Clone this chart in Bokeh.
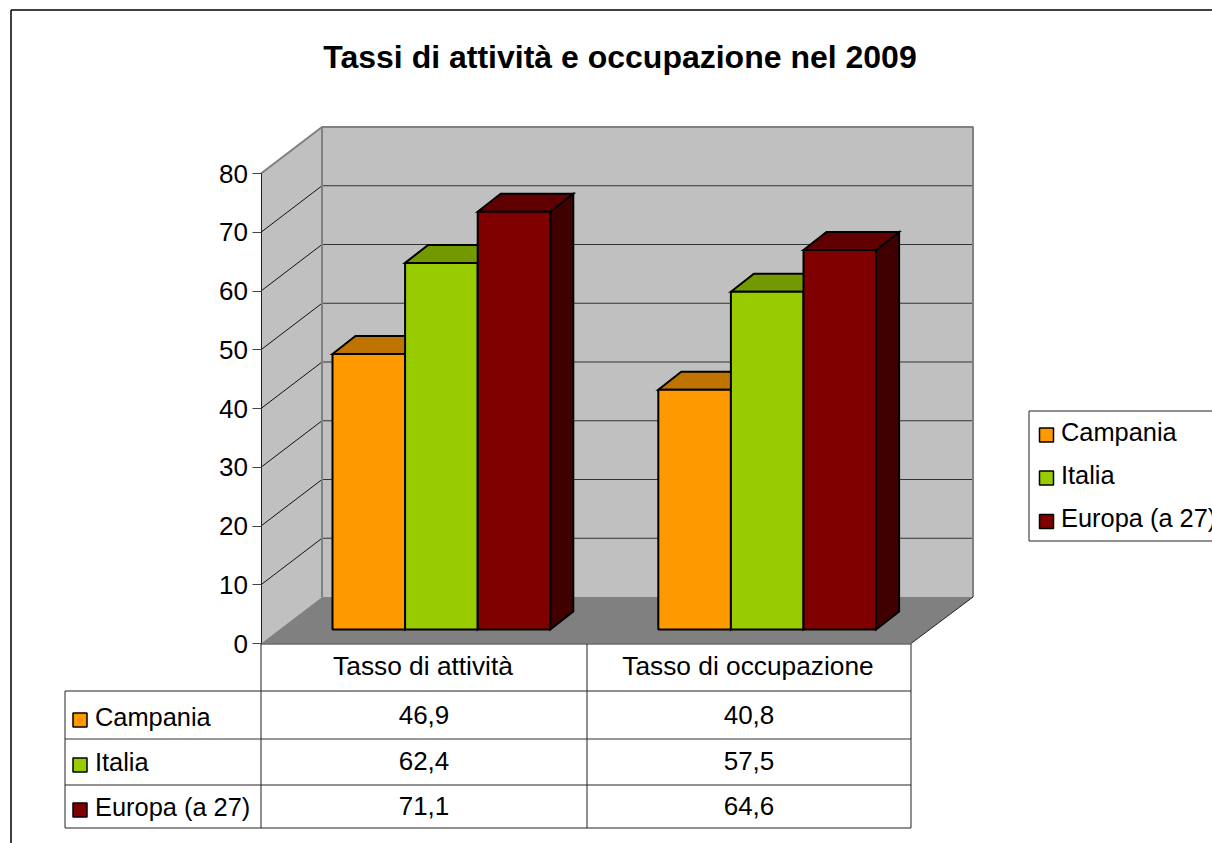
from bokeh.plotting import figure
from bokeh.models import LinearAxis, FixedTicker, Range1d
from bokeh.core.properties import value
from bokeh.embed import file_html
from bokeh.resources import INLINE

title_text = "Tassi di attività e occupazione nel 2009"
categories = ["Tasso di attività", "Tasso di occupazione"]
series_names = ["Campania", "Italia", "Europa (a 27)"]
campania = [46.9, 40.8]
italia = [62.4, 57.5]
europa = [71.1, 64.6]
y_ticks = [0, 10, 20, 30, 40, 50, 60, 70, 80]

front_colors = ["#ff9900", "#99cc00", "#800000"]
top_colors = ["#bf7300", "#739900", "#600000"]
side_colors = ["#804d00", "#4d6600", "#400000"]
series_values = [campania, italia, europa]

W, H = 1212, 843
PX = 5.875                 # pixels per value unit
Y0 = 643.0                 # page y of value 0 on the front axis


def yv(page_y):
    return (Y0 - page_y) / PX


p = figure(width=W, height=H, output_backend="svg", toolbar_location=None, tools="",
           x_axis_location=None, y_axis_location=None, min_border=0,
           x_range=Range1d(0, W), y_range=Range1d(yv(H), yv(0)),
           outline_line_color=None, background_fill_color="white")
p.grid.visible = False

FONT = value("Liberation Sans")
AX_X = 260.5
BACK_DX, BACK_DY = 61.0, 46.5
WALL_R = 972.5
top_v = y_ticks[-1]
lift_back = BACK_DY / PX

# chart border
p.line([10.5, 10.5], [yv(9.5), yv(H)], line_color="black", line_width=1.5)
p.line([10.5, W], [yv(9.5), yv(9.5)], line_color="black", line_width=1.5)

# walls and floor
bx = AX_X + BACK_DX
p.patch([AX_X, bx, bx, AX_X], [0, lift_back, top_v + lift_back, top_v],
        fill_color="#c0c0c0", line_color=None)
p.quad(left=[bx], right=[WALL_R], bottom=[lift_back], top=[top_v + lift_back],
       fill_color="#c0c0c0", line_color=None)
p.patch([AX_X, 910.5, WALL_R, bx], [0, 0, lift_back, lift_back],
        fill_color="#808080", line_color=None)

# grid lines
for t in y_ticks[1:-1]:
    p.line([AX_X, bx], [t, t + lift_back], line_color="#111111", line_width=1)
    p.line([bx, WALL_R], [t + lift_back, t + lift_back], line_color="#333333", line_width=1)
# wall edges
p.line([AX_X, bx, WALL_R, WALL_R], [top_v, top_v + lift_back, top_v + lift_back, lift_back],
       line_color="#808080", line_width=2)
p.line([bx, bx], [lift_back, top_v + lift_back], line_color="#808080", line_width=2)
p.line([910.5, WALL_R], [0, lift_back], line_color="#222222", line_width=1)

# bars
CAT_W = 325.8
BAR_W = 72.6
BAR_X0 = 332.0
DEPTH_DX, DEPTH_DY = 23.0, 18.0
BAR_LIFT = 14.0 / PX
d = DEPTH_DY / PX
for i in range(len(categories)):
    for j, vals in enumerate(series_values):
        x0 = BAR_X0 + i * CAT_W + j * BAR_W
        x1 = x0 + BAR_W
        v = vals[i] + BAR_LIFT
        b = BAR_LIFT
        p.patch([x1, x1 + DEPTH_DX, x1 + DEPTH_DX, x1], [b, b + d, v + d, v],
                fill_color=side_colors[j], line_color="black", line_width=2, line_join="miter")
        p.patch([x0, x0 + DEPTH_DX, x1 + DEPTH_DX, x1], [v, v + d, v + d, v],
                fill_color=top_colors[j], line_color="black", line_width=2, line_join="miter")
        p.quad(left=[x0], right=[x1], bottom=[b], top=[v],
               fill_color=front_colors[j], line_color="black", line_width=2)

# y axis
axis = LinearAxis(fixed_location=AX_X, ticker=FixedTicker(ticks=y_ticks), bounds=(0, top_v),
                  major_tick_in=0, major_tick_out=9, minor_tick_line_color=None,
                  major_tick_line_color="#444444", axis_line_color="#222222",
                  major_label_text_font="Liberation Sans", major_label_text_font_size="26px",
                  major_label_text_color="black", major_label_standoff=4)
p.add_layout(axis, "left")

# data table
TX = [64.5, AX_X, 586.5, 910.5]
TY_HEAD, TY = 643.5, [690.5, 738.5, 784.5, 827.5]
LC = "#222222"
p.line([AX_X, TX[3]], [yv(TY_HEAD)] * 2, line_color=LC, line_width=1)
for k, ty in enumerate(TY):
    p.line([TX[0], TX[3]], [yv(ty)] * 2, line_color="#777777" if k == 1 else LC,
           line_width=1.5 if k == 1 else 1)
p.line([TX[0]] * 2, [yv(TY[0]), yv(TY[3])], line_color=LC, line_width=1)
for tx in TX[1:]:
    p.line([tx] * 2, [yv(TY_HEAD), yv(TY[3])], line_color=LC, line_width=1)


def label(x, y, text, align="left", size="26px", style="normal"):
    p.text([x], [yv(y)], text=[text], text_align=align, text_baseline="middle",
           text_font=FONT, text_font_size=size, text_font_style=style, text_color="black")


def swatch(x, y, color):
    p.quad(left=[x], right=[x + 14], top=[yv(y)], bottom=[yv(y + 14)],
           fill_color=color, line_color="black", line_width=1.5)


label(619.5, 56.5, title_text, "center", "32px", "bold")
for i, c in enumerate(categories):
    cx = (TX[i + 1] + TX[i + 2]) / 2
    label(cx - 1, 665, c, "center", "26.3px")
    for j, vals in enumerate(series_values):
        label(cx, [714, 760, 805][j], f"{vals[i]:.1f}".replace(".", ","), "center")
for j, name in enumerate(series_names):
    label(94.5, [716, 761, 806][j], name, "left", "25.4px")
    swatch(72.5, [712.5, 757.5, 802.5][j], front_colors[j])

# legend
p.patch([1028.5, W, W, 1028.5], [yv(410.5), yv(410.5), yv(540.5), yv(540.5)],
        fill_color="white", line_color=None)
p.line([W, 1028.5, 1028.5, W], [yv(410.5), yv(410.5), yv(540.5), yv(540.5)],
       line_color="#222222", line_width=1)
for j, name in enumerate(series_names):
    label(1060.5, [431, 474, 517][j], name, "left", "25.4px")
    swatch(1039, [427.5, 470.5, 514][j], front_colors[j])

open("out.html", "w").write(file_html(p, INLINE))
